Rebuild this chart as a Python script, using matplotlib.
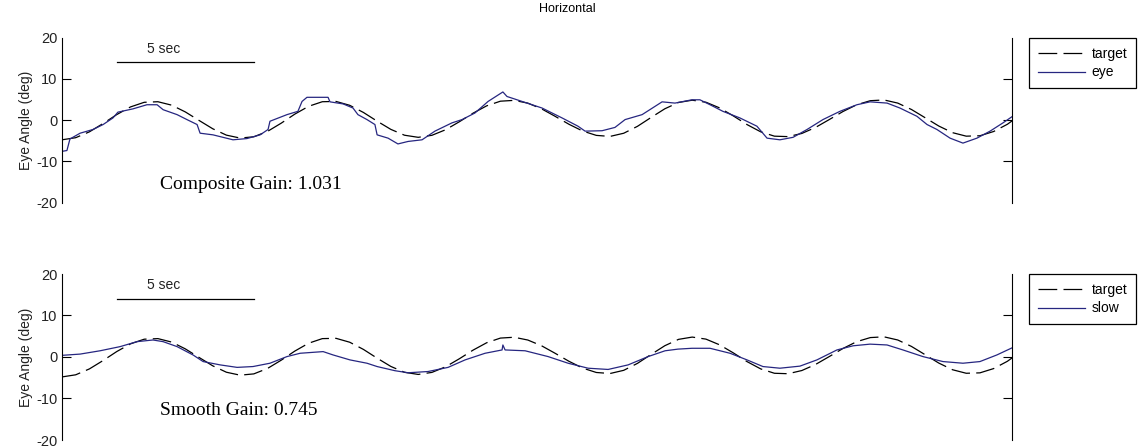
import matplotlib
matplotlib.use('Agg')
import matplotlib.pyplot as plt


# target (deg), sampled every 0.5 s
target_t = [0.0, 0.5, 1.0, 1.5, 2.0, 2.5, 3.0, 3.5, 4.0, 4.5, 5.0, 5.5, 6.0, 6.5,
            7.0, 7.5, 8.0, 8.5, 9.0, 9.5, 10.0, 10.5, 11.0, 11.5, 12.0, 12.5, 13.0,
            13.5, 14.0, 14.5, 15.0, 15.5, 16.0, 16.5, 17.0, 17.5, 18.0, 18.5, 19.0,
            19.5, 20.0, 20.5, 21.0, 21.5, 22.0, 22.5, 23.0, 23.5, 24.0, 24.5, 25.0,
            25.5, 26.0, 26.5, 27.0, 27.5, 28.0, 28.5, 29.0, 29.5, 30.0, 30.5, 31.0,
            31.5, 32.0, 32.5, 33.0, 33.5, 34.0, 34.5, 34.67]
target_v = [-4.8, -4.29, -2.87, -0.85, 1.32, 3.17, 4.29, 4.43, 3.60, 1.96, -0.10, -2.12,
            -3.67, -4.38, -4.07, -2.76, -0.77, 1.44, 3.32, 4.43, 4.50, 3.56, 1.83, -0.28,
            -2.27, -3.69, -4.2, -3.71, -2.36, -0.43, 1.65, 3.44, 4.56, 4.76, 4.09, 2.71,
            0.88, -1.03, -2.67, -3.73, -3.98, -3.21, -1.54, 0.62, 2.72, 4.25, 4.8, 4.31,
            2.93, 0.99, -1.11, -2.87, -3.92, -4.03, -3.26, -1.80, 0.10, 2.05, 3.69, 4.68,
            4.86, 4.10, 2.55, 0.55, -1.47, -3.07, -3.92, -3.82, -2.79, -1.04, -0.23]

# eye position (deg)
eye_t = [0.00, 0.18, 0.29, 0.66, 1.13, 1.50, 1.86, 2.04, 2.59, 3.10, 3.47, 3.69, 4.20,
         4.56, 4.93, 5.04, 5.51, 6.24, 6.75, 7.23, 7.52, 7.59, 8.21, 8.61, 8.76, 8.94,
         9.71, 9.78, 10.26, 10.62, 10.80, 11.13, 11.42, 11.50, 11.90, 12.26, 12.63,
         13.14, 13.61, 14.23, 14.60, 15.07, 15.55, 16.09, 16.24, 16.79, 17.52, 18.25,
         18.83, 19.09, 19.71, 20.18, 20.55, 21.17, 21.90, 22.37, 22.99, 23.28, 23.65,
         24.12, 24.74, 25.36, 25.73, 26.20, 26.68, 27.19, 27.77, 28.39, 29.01, 29.49,
         30.11, 30.58, 31.20, 31.57, 31.93, 32.41, 32.88, 33.39, 33.87, 34.34, 34.67]
eye_v = [-7.6, -7.4, -4.6, -3.2, -2.3, -1.1, 0.5, 1.9, 2.7, 3.7, 3.7, 2.5, 1.3,
         0.1, -1.1, -3.2, -3.6, -4.8, -4.5, -3.6, -2.3, -0.3, 1.3, 2.1, 4.5, 5.5,
         5.5, 4.4, 3.9, 2.9, 1.3, 0.1, -1.1, -3.6, -4.4, -5.8, -5.2,
         -4.8, -2.7, -0.7, 0.1, 1.7, 4.5, 6.8, 5.7, 4.5, 2.9, 0.5,
         -1.5, -2.7, -2.6, -1.8, 0.1, 1.3, 4.4, 4.1, 4.9, 4.9, 3.7,
         2.1, 0.5, -1.5, -4.4, -4.8, -4.2, -2.3, 0.1, 2.1, 3.7, 4.4,
         4.1, 2.9, 0.9, -1.1, -2.3, -4.4, -5.6, -4.4, -2.7, -0.7, 0.8]

# slow phase (deg)
slow_t = [0.00, 0.66, 1.39, 2.12, 2.74, 3.32, 3.69, 4.20, 4.78, 5.15, 5.77, 6.39, 6.97,
          7.59, 8.21, 8.69, 9.53, 9.89, 10.51, 11.13, 11.50, 12.15, 12.63, 13.36, 14.09,
          14.71, 15.44, 16.06, 16.09, 16.17, 16.90, 17.74, 18.47, 19.20, 19.93, 20.66,
          21.39, 22.01, 22.48, 22.99, 23.65, 24.38, 25.00, 25.58, 26.20, 26.93, 27.55,
          28.28, 28.87, 29.49, 30.11, 30.69, 31.42, 32.15, 32.88, 33.50, 34.12, 34.67]
slow_v = [0.4, 0.7, 1.5, 2.5, 3.7, 4.1, 3.7, 2.5, 0.5, -1.1, -1.9, -2.5, -2.3,
          -1.5, 0.1, 0.9, 1.3, 0.5, -0.7, -1.5, -2.3, -3.3, -3.8, -3.5, -2.5,
          -0.7, 0.9, 1.7, 2.9, 1.7, 1.5, 0.1, -1.5, -2.7, -3.0, -1.9,
          0.1, 1.5, 1.9, 2.1, 2.1, 0.9, -0.7, -2.3, -2.7, -2.2, -0.7,
          1.7, 2.7, 3.1, 2.9, 1.7, 0.1, -1.1, -1.5, -1.1, 0.5, 2.2]

gain_texts = ['Composite Gain: 1.031', 'Smooth Gain: 0.745']
gain_y     = [-15.6, -13.0]
labels     = ['eye', 'slow']
t_end      = 34.67

eye_col = '#262680'
plt.rcParams['axes.unicode_minus'] = False

fig = plt.figure(figsize=(11.39, 4.48), dpi=100)
ax0 = fig.add_axes([62/1139, 1 - 202.5/448, 950/1139, 165/448])
ax1 = fig.add_axes([62/1139, 1 - 440/448, 950/1139, 166/448])

fig.text(567/1139, 1 - 8.5/448, 'Horizontal', ha='center', va='center',
         fontsize=9, family='Liberation Sans')

for i, (ax, tt, vv) in enumerate([(ax0, eye_t, eye_v), (ax1, slow_t, slow_v)]):
  ax.plot(target_t, target_v, color='black', lw=0.9, dashes=(15, 5), label='target')
  ax.plot(tt, vv, color=eye_col, lw=0.9, label=labels[i])
  ax.set_xlim(0, t_end)
  ax.set_ylim(-20, 20)
  ax.set_yticks([-20, -10, 0, 10, 20])
  ax.set_xticks([])
  for s in ['top', 'bottom']:
    ax.spines[s].set_visible(False)
  for s in ['left', 'right']:
    ax.spines[s].set_linewidth(0.8)
  ax.tick_params(axis='y', direction='in', length=6.5, width=0.8, right=True,
                 labelright=False, pad=3.5, labelsize=10.5, labelcolor='#222222')
  for lbl in ax.get_yticklabels():
    lbl.set_family('Liberation Sans')
  ticks = ax.yaxis.get_major_ticks()
  for k in [0, -1]:
    ticks[k].tick1line.set_visible(False)
    ticks[k].tick2line.set_visible(False)
  ax.set_ylabel('Eye Angle (deg)', fontsize=10, family='Liberation Sans',
                color='#222222', labelpad=2)

  # 5 sec scale bar
  ax.plot([2, 7], [14.0, 14.0], color='black', lw=0.9)
  ax.text(3.7, 15.6, '5 sec', ha='center', va='bottom', fontsize=10,
          family='Liberation Sans', color='#222222')

  ax.text(3.58, gain_y[i], gain_texts[i], ha='left', va='center', fontsize=14,
          family='Liberation Serif')

  top_px = [38, 274][i]
  leg = ax.legend(loc='upper left', bbox_to_anchor=(1029/1139, 1 - top_px/448),
                  bbox_transform=fig.transFigure, borderaxespad=0, fancybox=False,
                  edgecolor='black', framealpha=1, handlelength=3.4,
                  handletextpad=0.5, borderpad=0.62, labelspacing=0.35,
                  prop={'family': 'Liberation Sans', 'size': 10})
  leg.get_frame().set_linewidth(0.9)

fig.savefig('out.png', dpi=100)
